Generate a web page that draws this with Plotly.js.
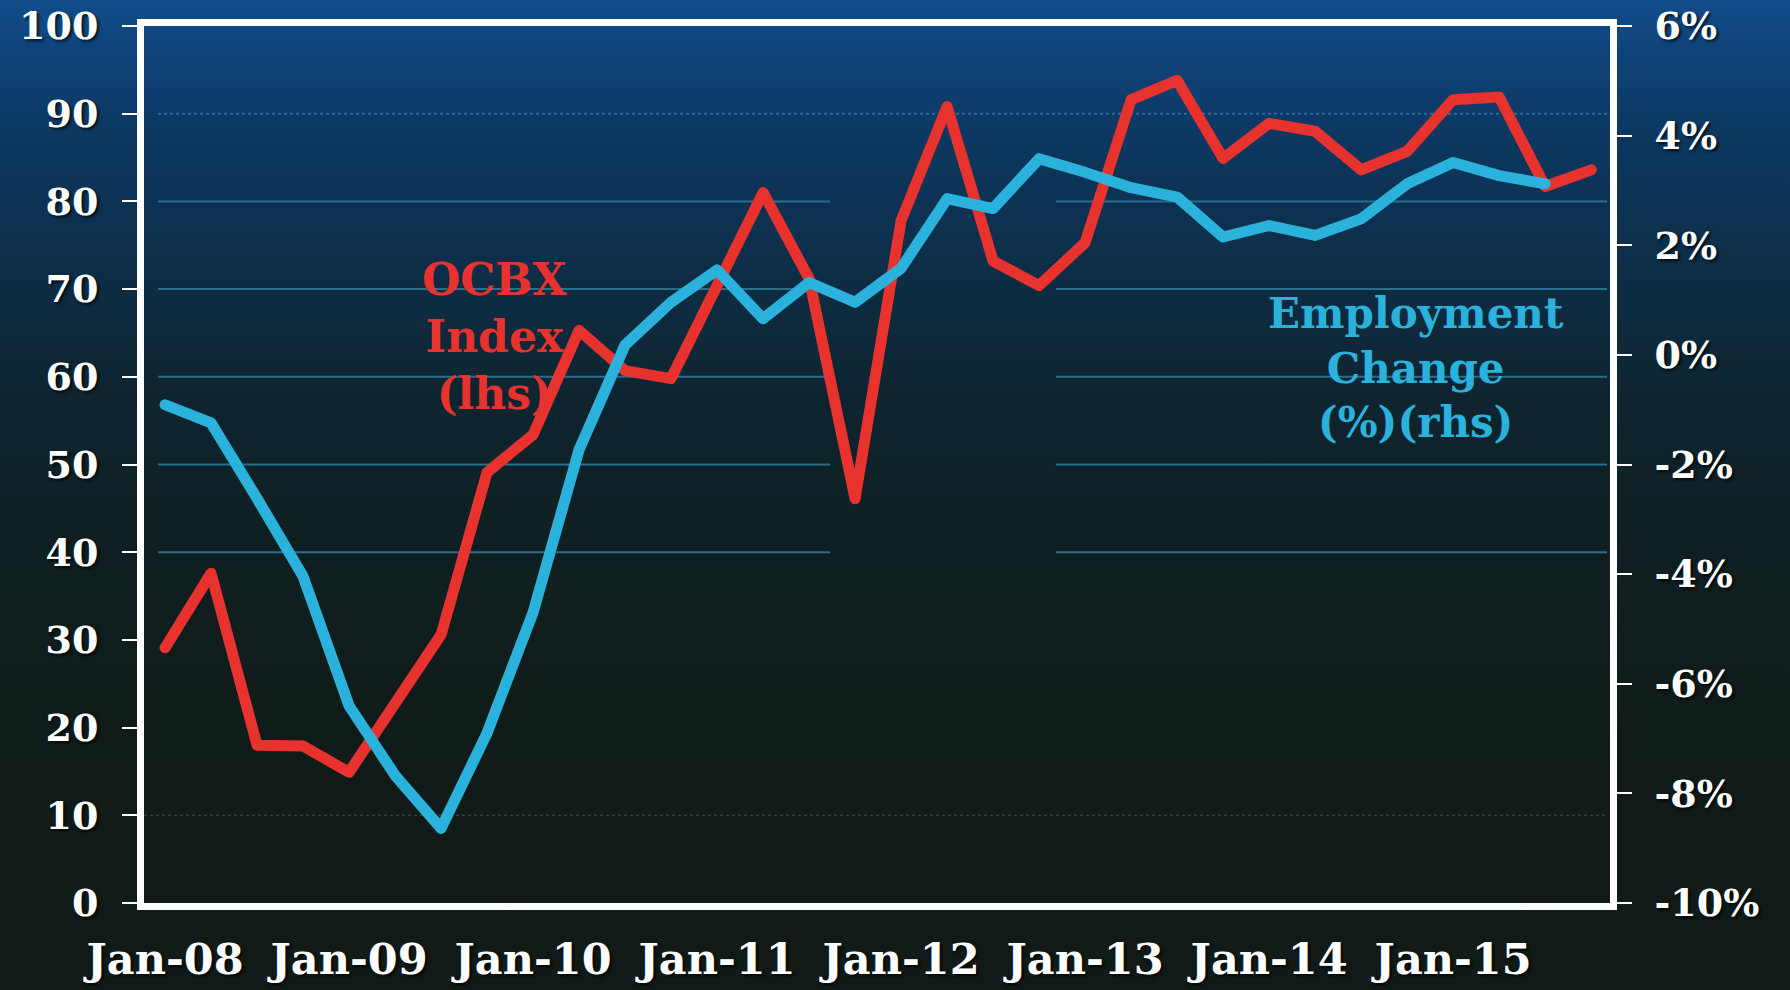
<!DOCTYPE html>
<html>
<head>
<meta charset="utf-8">
<script src="https://cdn.plot.ly/plotly-3.0.1.min.js"></script>
<style>
  html, body { margin: 0; padding: 0; width: 1790px; height: 990px; overflow: hidden; }
  body {
    background: linear-gradient(to bottom,
      #124d8a 0%, #0e4277 6%, #0c3760 14%, #0d2d45 28%, #0e2530 40%,
      #0f2023 52%, #101c1a 70%, #111a17 100%);
  }
  #chart { width: 1790px; height: 990px; }
  .scatterlayer .js-line { stroke-linejoin: round; stroke-linecap: round; }
</style>
</head>
<body>
<div id="chart"></div>
<script>
// Quarterly observations, Jan-08 .. Oct-15
const quarters = [
  "Jan-08","Apr-08","Jul-08","Oct-08",
  "Jan-09","Apr-09","Jul-09","Oct-09",
  "Jan-10","Apr-10","Jul-10","Oct-10",
  "Jan-11","Apr-11","Jul-11","Oct-11",
  "Jan-12","Apr-12","Jul-12","Oct-12",
  "Jan-13","Apr-13","Jul-13","Oct-13",
  "Jan-14","Apr-14","Jul-14","Oct-14",
  "Jan-15","Apr-15","Jul-15","Oct-15"
];
const yearTicks = ["Jan-08","Jan-09","Jan-10","Jan-11","Jan-12","Jan-13","Jan-14","Jan-15"];

// OCBX Index (lhs)
const ocbxIndex = [
  29.1, 37.6, 18.0, 17.9,
  14.9, 22.5, 30.6, 49.1,
  53.4, 65.3, 60.7, 59.8,
  70.6, 81.0, 71.2, 46.1,
  77.8, 90.8, 73.2, 70.4,
  75.3, 91.6, 93.8, 84.9,
  88.9, 88.0, 83.6, 85.7,
  91.6, 91.9, 81.7, 83.6
];

// Employment Change (%) (rhs)
const employmentChange = [
  -0.91, -1.24, -2.62, -4.04,
  -6.40, -7.67, -8.64, -6.90,
  -4.70, -1.73, 0.18, 0.96,
  1.55, 0.66, 1.32, 0.96,
  1.58, 2.85, 2.67, 3.58,
  3.33, 3.05, 2.88, 2.15,
  2.36, 2.18, 2.48, 3.12,
  3.51, 3.27, 3.12
];

const leftTicks = [0,10,20,30,40,50,60,70,80,90,100];
const rightTickVals = [-10,-8,-6,-4,-2,0,2,4,6];
const rightTickText = ["-10%","-8%","-6%","-4%","-2%","0%","2%","4%","6%"];

// gridline levels (lhs)
const splitGridLevels = [40,50,60,70,80];
const dottedGridLevel = 90;
const faintGridLevel = 10;

const RED = "#e8322e";
const TEAL = "#2ab2dc";
const FONT = "DejaVu Serif, Liberation Serif, serif";
const SHADOW = "2px 2px 3px rgba(0,0,0,0.75)";

const traces = [
  {
    x: quarters, y: ocbxIndex, type: "scatter", mode: "lines",
    name: "OCBX Index (lhs)", yaxis: "y",
    line: { color: RED, width: 11 }
  },
  {
    x: quarters.slice(0, employmentChange.length), y: employmentChange,
    type: "scatter", mode: "lines",
    name: "Employment Change (%)(rhs)", yaxis: "y2",
    line: { color: TEAL, width: 11 }
  }
];

const shapes = [];
splitGridLevels.forEach(v => {
  shapes.push({ type: "line", xref: "paper", yref: "y", x0: 0.0095, x1: 0.468, y0: v, y1: v,
    line: { color: "#2a6d8c", width: 2 }, layer: "below" });
  shapes.push({ type: "line", xref: "paper", yref: "y", x0: 0.622, x1: 0.998, y0: v, y1: v,
    line: { color: "#2a6d8c", width: 2 }, layer: "below" });
});
shapes.push({ type: "line", xref: "paper", yref: "y", x0: 0.0095, x1: 0.998,
  y0: dottedGridLevel, y1: dottedGridLevel,
  line: { color: "#2d6c9c", width: 2, dash: "dot" }, layer: "below" });
shapes.push({ type: "line", xref: "paper", yref: "y", x0: 0.0, x1: 0.998,
  y0: faintGridLevel, y1: faintGridLevel,
  line: { color: "rgba(120,130,120,0.35)", width: 1.5, dash: "dot" }, layer: "below" });

const layout = {
  width: 1790, height: 990,
  margin: { l: 144, r: 180, t: 26, b: 87, pad: 0 },
  paper_bgcolor: "rgba(0,0,0,0)",
  plot_bgcolor: "rgba(0,0,0,0)",
  showlegend: false,
  font: { family: FONT, color: "#ffffff" },
  xaxis: {
    type: "category",
    range: [-0.457, 31.41],
    tickmode: "array", tickvals: yearTicks, ticktext: yearTicks,
    showgrid: false, zeroline: false,
    showline: true, linecolor: "#ffffff", linewidth: 7, mirror: true,
    ticks: "",
    ticklabelstandoff: 12,
    tickfont: { family: FONT, size: 43, color: "#ffffff", weight: "bold", shadow: SHADOW }
  },
  yaxis: {
    range: [0, 100],
    tickmode: "array", tickvals: leftTicks,
    showgrid: false, zeroline: false,
    showline: true, linecolor: "#ffffff", linewidth: 7,
    ticks: "outside", ticklen: 15, tickwidth: 2, tickcolor: "#ffffff",
    ticklabelstandoff: 16,
    tickfont: { family: FONT, size: 38, color: "#ffffff", weight: "bold", shadow: SHADOW }
  },
  yaxis2: {
    overlaying: "y", side: "right",
    range: [-10, 6],
    tickmode: "array", tickvals: rightTickVals, ticktext: rightTickText,
    showgrid: false, zeroline: false,
    showline: true, linecolor: "#ffffff", linewidth: 7,
    ticks: "outside", ticklen: 15, tickwidth: 2, tickcolor: "#ffffff",
    ticklabelstandoff: 15,
    tickfont: { family: FONT, size: 38, color: "#ffffff", weight: "bold", shadow: SHADOW }
  },
  shapes: shapes,
  annotations: [
    {
      xref: "paper", yref: "paper", x: 0.2394, y: 0.6465,
      xanchor: "center", yanchor: "middle", showarrow: false, align: "center",
      text: "OCBX<br>Index<br>(lhs)",
      font: { family: FONT, size: 44, color: RED, weight: "bold" }
    },
    {
      xref: "paper", yref: "paper", x: 0.8677, y: 0.610,
      xanchor: "center", yanchor: "middle", showarrow: false, align: "center",
      text: "Employment<br>Change<br>(%)(rhs)",
      font: { family: FONT, size: 42, color: TEAL, weight: "bold" }
    }
  ]
};

Plotly.newPlot("chart", traces, layout, { displayModeBar: false, staticPlot: true });
</script>
</body>
</html>
